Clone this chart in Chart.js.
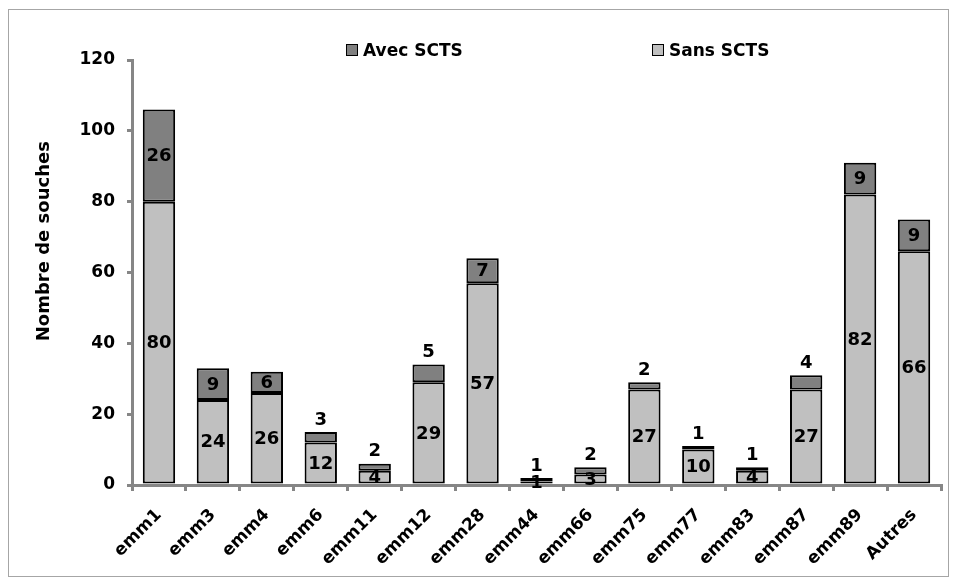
<!DOCTYPE html>
<html>
<head>
<meta charset="utf-8">
<script src="https://cdn.jsdelivr.net/npm/chart.js@4"></script>
<style>
    html, body { margin: 0; padding: 0; background: #fff; }
    #wrap { position: relative; width: 956px; height: 580px; }
    #frame { position: absolute; left: 8px; top: 9px; width: 939px; height: 566px; border: 1px solid #a6a6a6; pointer-events: none; }
    .legend-item { position: absolute; top: 40px; display: flex; align-items: center; font: bold 17px 'DejaVu Sans', sans-serif; color: #000; }
    .legend-box { width: 10px; height: 10px; border: 1px solid #000; margin-right: 5px; }
</style>
</head>
<body>
<div id="wrap">
    <canvas id="chart" width="956" height="580"></canvas>
    <div id="frame"></div>
    <div class="legend-item" style="left:346px"><span class="legend-box" style="background:#808080"></span>Avec SCTS</div>
    <div class="legend-item" style="left:652px"><span class="legend-box" style="background:#c0c0c0"></span>Sans SCTS</div>
</div>
<script>
// values
const categories = ['emm1', 'emm3', 'emm4', 'emm6', 'emm11', 'emm12', 'emm28', 'emm44', 'emm66', 'emm75', 'emm77', 'emm83', 'emm87', 'emm89', 'Autres'];
const sansSCTS = [80, 24, 26, 12, 4, 29, 57, 1, 3, 27, 10, 4, 27, 82, 66];
const avecSCTS = [26, 9, 6, 3, 2, 5, 7, 1, 2, 2, 1, 1, 4, 9, 9];
const yTicks = [0, 20, 40, 60, 80, 100, 120];

const axisGray = '#868686';
const labelFont = "bold 18px 'DejaVu Sans', sans-serif";

// draw the numbers in / above the segments
const valueLabels = {
    id: 'valueLabels',
    afterDatasetsDraw(chart) {
        const ctx = chart.ctx;
        ctx.save();
        ctx.font = labelFont;
        ctx.fillStyle = '#000';
        ctx.textAlign = 'center';
        ctx.textBaseline = 'middle';
        chart.data.datasets.forEach((ds, i) => {
            const meta = chart.getDatasetMeta(i);
            meta.data.forEach((bar, j) => {
                const v = ds.data[j];
                let y = (bar.y + bar.base) / 2;
                if (ds.label === 'Avec SCTS' && v < 6) y = bar.y - 13;
                ctx.fillText(String(v), bar.x, y + 1);
            });
        });
        ctx.restore();
    }
};

new Chart(document.getElementById('chart'), {
    type: 'bar',
    data: {
        labels: categories,
        datasets: [
            {
                label: 'Sans SCTS',
                data: sansSCTS,
                backgroundColor: '#c0c0c0',
                borderColor: '#000',
                borderWidth: 2,
                borderSkipped: false,
                categoryPercentage: 1,
                barPercentage: 0.6
            },
            {
                label: 'Avec SCTS',
                data: avecSCTS,
                backgroundColor: '#808080',
                borderColor: '#000',
                borderWidth: 2,
                borderSkipped: false,
                categoryPercentage: 1,
                barPercentage: 0.6
            }
        ]
    },
    options: {
        responsive: false,
        animation: false,
        layout: { padding: { left: 8, right: 15, top: 60, bottom: 0 } },
        plugins: {
            legend: { display: false },
            tooltip: { enabled: false }
        },
        scales: {
            x: {
                stacked: true,
                afterFit: s => { s.height = 95; },
                grid: { drawOnChartArea: false, offset: true, tickLength: 6, color: axisGray, lineWidth: 3 },
                border: { color: axisGray, width: 3 },
                ticks: {
                    minRotation: 45, maxRotation: 45, padding: 14,
                    color: '#000',
                    font: { family: "'DejaVu Sans', sans-serif", size: 17, weight: 'bold' }
                }
            },
            y: {
                stacked: true,
                min: 0, max: 120,
                afterFit: s => { s.width = 124; },
                afterBuildTicks: s => { s.ticks = yTicks.map(v => ({ value: v })); },
                grid: { drawOnChartArea: false, tickLength: 5, color: axisGray, lineWidth: 3 },
                border: { color: axisGray, width: 3 },
                ticks: {
                    color: '#000', padding: 12,
                    font: { family: "'DejaVu Sans', sans-serif", size: 17, weight: 'bold' }
                },
                title: {
                    display: true,
                    // leading spaces push the text up, as in the original
                    text: '\u00a0'.repeat(10) + 'Nombre de souches',
                    color: '#000',
                    padding: { top: 26, bottom: 0 },
                    font: { family: "'DejaVu Sans', sans-serif", size: 18, weight: 'bold' }
                }
            }
        }
    },
    plugins: [valueLabels]
});
</script>
</body>
</html>
